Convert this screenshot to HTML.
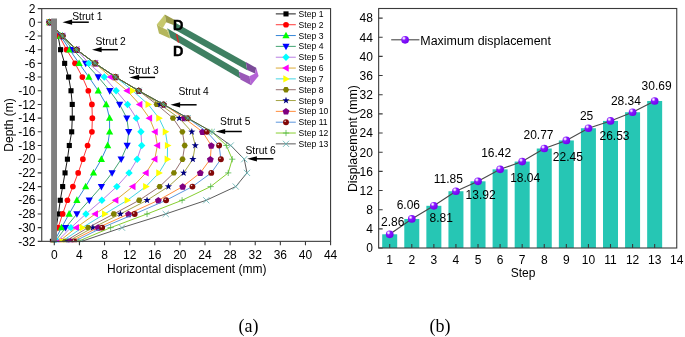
<!DOCTYPE html>
<html><head><meta charset="utf-8"><title>Figure</title>
<style>html,body{margin:0;padding:0;background:#fff;}body{width:685px;height:337px;overflow:hidden;font-family:"Liberation Sans",sans-serif;}svg{display:block;will-change:transform;}</style>
</head><body>
<svg width="685" height="337" viewBox="0 0 685 337" font-family="'Liberation Sans', sans-serif" font-size="12" fill="#000">
<defs>
<radialGradient id="gRed" cx="0.35" cy="0.3" r="0.7"><stop offset="0" stop-color="#ffc8c8"/><stop offset="0.22" stop-color="#901010"/><stop offset="1" stop-color="#780000"/></radialGradient>
<radialGradient id="gPur" cx="0.34" cy="0.3" r="0.75"><stop offset="0" stop-color="#ffffff"/><stop offset="0.13" stop-color="#e6ccff"/><stop offset="0.36" stop-color="#8818ff"/><stop offset="1" stop-color="#7000ee"/></radialGradient>
<clipPath id="clipA"><rect x="41.74" y="8.61" width="288.83" height="233.73"/></clipPath>
</defs>
<rect width="685" height="337" fill="#fff"/>
<g id="chartA">
<g clip-path="url(#clipA)">
<polyline points="49.59,22.30 58.07,35.99 60.58,49.68 64.66,63.37 68.62,77.06 71.00,90.75 72.26,104.44 72.26,118.13 71.69,131.82 69.31,145.51 67.42,159.20 65.04,172.89 62.65,186.58 60.27,200.27 58.38,213.96 56.18,227.65 52.42,241.34" fill="none" stroke="#000000" stroke-width="0.9"/>
<rect x="47.04" y="19.75" width="5.10" height="5.10" fill="#000000"/>
<rect x="55.52" y="33.44" width="5.10" height="5.10" fill="#000000"/>
<rect x="58.03" y="47.13" width="5.10" height="5.10" fill="#000000"/>
<rect x="62.11" y="60.82" width="5.10" height="5.10" fill="#000000"/>
<rect x="66.07" y="74.51" width="5.10" height="5.10" fill="#000000"/>
<rect x="68.45" y="88.20" width="5.10" height="5.10" fill="#000000"/>
<rect x="69.71" y="101.89" width="5.10" height="5.10" fill="#000000"/>
<rect x="69.71" y="115.58" width="5.10" height="5.10" fill="#000000"/>
<rect x="69.14" y="129.27" width="5.10" height="5.10" fill="#000000"/>
<rect x="66.76" y="142.96" width="5.10" height="5.10" fill="#000000"/>
<rect x="64.87" y="156.65" width="5.10" height="5.10" fill="#000000"/>
<rect x="62.49" y="170.34" width="5.10" height="5.10" fill="#000000"/>
<rect x="60.10" y="184.03" width="5.10" height="5.10" fill="#000000"/>
<rect x="57.72" y="197.72" width="5.10" height="5.10" fill="#000000"/>
<rect x="55.83" y="211.41" width="5.10" height="5.10" fill="#000000"/>
<rect x="53.63" y="225.10" width="5.10" height="5.10" fill="#000000"/>
<rect x="49.87" y="238.79" width="5.10" height="5.10" fill="#000000"/>
<polyline points="49.59,22.30 59.32,35.99 66.54,49.68 75.02,63.37 82.37,77.06 88.33,90.75 91.91,104.44 92.35,118.13 91.91,131.82 87.58,145.51 82.87,159.20 78.16,172.89 72.89,186.58 67.42,200.27 62.65,213.96 58.07,227.65 53.36,241.34" fill="none" stroke="#ff2020" stroke-width="0.9"/>
<circle cx="49.59" cy="22.30" r="2.85" fill="#ff0000"/>
<circle cx="59.32" cy="35.99" r="2.85" fill="#ff0000"/>
<circle cx="66.54" cy="49.68" r="2.85" fill="#ff0000"/>
<circle cx="75.02" cy="63.37" r="2.85" fill="#ff0000"/>
<circle cx="82.37" cy="77.06" r="2.85" fill="#ff0000"/>
<circle cx="88.33" cy="90.75" r="2.85" fill="#ff0000"/>
<circle cx="91.91" cy="104.44" r="2.85" fill="#ff0000"/>
<circle cx="92.35" cy="118.13" r="2.85" fill="#ff0000"/>
<circle cx="91.91" cy="131.82" r="2.85" fill="#ff0000"/>
<circle cx="87.58" cy="145.51" r="2.85" fill="#ff0000"/>
<circle cx="82.87" cy="159.20" r="2.85" fill="#ff0000"/>
<circle cx="78.16" cy="172.89" r="2.85" fill="#ff0000"/>
<circle cx="72.89" cy="186.58" r="2.85" fill="#ff0000"/>
<circle cx="67.42" cy="200.27" r="2.85" fill="#ff0000"/>
<circle cx="62.65" cy="213.96" r="2.85" fill="#ff0000"/>
<circle cx="58.07" cy="227.65" r="2.85" fill="#ff0000"/>
<circle cx="53.36" cy="241.34" r="2.85" fill="#ff0000"/>
<polyline points="49.59,22.30 60.58,35.99 69.68,49.68 79.10,63.37 88.83,77.06 98.25,90.75 106.16,104.44 109.56,118.13 109.62,131.82 107.67,145.51 101.39,159.20 93.54,172.89 85.69,186.58 76.90,200.27 69.12,213.96 61.52,227.65 54.30,241.34" fill="none" stroke="#1e78d2" stroke-width="0.9"/>
<polygon points="49.59,18.40 53.19,25.00 45.99,25.00" fill="#00ff00" />
<polygon points="60.58,32.09 64.18,38.69 56.98,38.69" fill="#00ff00" />
<polygon points="69.68,45.78 73.28,52.38 66.08,52.38" fill="#00ff00" />
<polygon points="79.10,59.47 82.70,66.07 75.50,66.07" fill="#00ff00" />
<polygon points="88.83,73.16 92.43,79.76 85.23,79.76" fill="#00ff00" />
<polygon points="98.25,86.85 101.85,93.45 94.65,93.45" fill="#00ff00" />
<polygon points="106.16,100.54 109.76,107.14 102.56,107.14" fill="#00ff00" />
<polygon points="109.56,114.23 113.16,120.83 105.96,120.83" fill="#00ff00" />
<polygon points="109.62,127.92 113.22,134.52 106.02,134.52" fill="#00ff00" />
<polygon points="107.67,141.61 111.27,148.21 104.07,148.21" fill="#00ff00" />
<polygon points="101.39,155.30 104.99,161.90 97.79,161.90" fill="#00ff00" />
<polygon points="93.54,168.99 97.14,175.59 89.94,175.59" fill="#00ff00" />
<polygon points="85.69,182.68 89.29,189.28 82.09,189.28" fill="#00ff00" />
<polygon points="76.90,196.37 80.50,202.97 73.30,202.97" fill="#00ff00" />
<polygon points="69.12,210.06 72.72,216.66 65.52,216.66" fill="#00ff00" />
<polygon points="61.52,223.75 65.12,230.35 57.92,230.35" fill="#00ff00" />
<polygon points="54.30,237.44 57.90,244.04 50.70,244.04" fill="#00ff00" />
<polyline points="49.59,22.30 61.52,35.99 73.14,49.68 85.69,63.37 98.25,77.06 109.74,90.75 119.60,104.44 126.82,118.13 128.71,131.82 127.14,145.51 121.17,159.20 112.07,172.89 101.39,186.58 89.27,200.27 76.90,213.96 65.60,227.65 55.24,241.34" fill="none" stroke="#2e9a62" stroke-width="0.9"/>
<polygon points="49.59,26.20 53.19,19.60 45.99,19.60" fill="#0000ff" />
<polygon points="61.52,39.89 65.12,33.29 57.92,33.29" fill="#0000ff" />
<polygon points="73.14,53.58 76.74,46.98 69.54,46.98" fill="#0000ff" />
<polygon points="85.69,67.27 89.29,60.67 82.09,60.67" fill="#0000ff" />
<polygon points="98.25,80.96 101.85,74.36 94.65,74.36" fill="#0000ff" />
<polygon points="109.74,94.65 113.34,88.05 106.14,88.05" fill="#0000ff" />
<polygon points="119.60,108.34 123.20,101.74 116.00,101.74" fill="#0000ff" />
<polygon points="126.82,122.03 130.42,115.43 123.22,115.43" fill="#0000ff" />
<polygon points="128.71,135.72 132.31,129.12 125.11,129.12" fill="#0000ff" />
<polygon points="127.14,149.41 130.74,142.81 123.54,142.81" fill="#0000ff" />
<polygon points="121.17,163.10 124.77,156.50 117.57,156.50" fill="#0000ff" />
<polygon points="112.07,176.79 115.67,170.19 108.47,170.19" fill="#0000ff" />
<polygon points="101.39,190.48 104.99,183.88 97.79,183.88" fill="#0000ff" />
<polygon points="89.27,204.17 92.87,197.57 85.67,197.57" fill="#0000ff" />
<polygon points="76.90,217.86 80.50,211.26 73.30,211.26" fill="#0000ff" />
<polygon points="65.60,231.55 69.20,224.95 62.00,224.95" fill="#0000ff" />
<polygon points="55.24,245.24 58.84,238.64 51.64,238.64" fill="#0000ff" />
<polyline points="49.59,22.30 62.46,35.99 76.59,49.68 88.83,63.37 104.28,77.06 116.15,90.75 127.58,104.44 136.37,118.13 140.95,131.82 141.70,145.51 137.18,159.20 129.02,172.89 116.84,186.58 101.89,200.27 85.95,213.96 70.94,227.65 57.13,241.34" fill="none" stroke="#b070e0" stroke-width="0.9"/>
<polygon points="49.59,18.60 53.29,22.30 49.59,26.00 45.89,22.30" fill="#00ffff" />
<polygon points="62.46,32.29 66.16,35.99 62.46,39.69 58.76,35.99" fill="#00ffff" />
<polygon points="76.59,45.98 80.29,49.68 76.59,53.38 72.89,49.68" fill="#00ffff" />
<polygon points="88.83,59.67 92.53,63.37 88.83,67.07 85.13,63.37" fill="#00ffff" />
<polygon points="104.28,73.36 107.98,77.06 104.28,80.76 100.58,77.06" fill="#00ffff" />
<polygon points="116.15,87.05 119.85,90.75 116.15,94.45 112.45,90.75" fill="#00ffff" />
<polygon points="127.58,100.74 131.28,104.44 127.58,108.14 123.88,104.44" fill="#00ffff" />
<polygon points="136.37,114.43 140.07,118.13 136.37,121.83 132.67,118.13" fill="#00ffff" />
<polygon points="140.95,128.12 144.65,131.82 140.95,135.52 137.25,131.82" fill="#00ffff" />
<polygon points="141.70,141.81 145.40,145.51 141.70,149.21 138.00,145.51" fill="#00ffff" />
<polygon points="137.18,155.50 140.88,159.20 137.18,162.90 133.48,159.20" fill="#00ffff" />
<polygon points="129.02,169.19 132.72,172.89 129.02,176.59 125.32,172.89" fill="#00ffff" />
<polygon points="116.84,182.88 120.54,186.58 116.84,190.28 113.14,186.58" fill="#00ffff" />
<polygon points="101.89,196.57 105.59,200.27 101.89,203.97 98.19,200.27" fill="#00ffff" />
<polygon points="85.95,210.26 89.65,213.96 85.95,217.66 82.25,213.96" fill="#00ffff" />
<polygon points="70.94,223.95 74.64,227.65 70.94,231.35 67.24,227.65" fill="#00ffff" />
<polygon points="57.13,237.64 60.83,241.34 57.13,245.04 53.43,241.34" fill="#00ffff" />
<polyline points="49.59,22.30 62.46,35.99 76.59,49.68 95.11,63.37 110.69,77.06 127.14,90.75 139.69,104.44 149.43,118.13 155.08,131.82 157.40,145.51 154.76,159.20 145.97,172.89 132.79,186.58 115.65,200.27 95.24,213.96 76.28,227.65 59.32,241.34" fill="none" stroke="#d8a020" stroke-width="0.9"/>
<polygon points="45.69,22.30 52.29,18.70 52.29,25.90" fill="#ff00ff" />
<polygon points="58.56,35.99 65.16,32.39 65.16,39.59" fill="#ff00ff" />
<polygon points="72.69,49.68 79.29,46.08 79.29,53.28" fill="#ff00ff" />
<polygon points="91.21,63.37 97.81,59.77 97.81,66.97" fill="#ff00ff" />
<polygon points="106.79,77.06 113.39,73.46 113.39,80.66" fill="#ff00ff" />
<polygon points="123.24,90.75 129.84,87.15 129.84,94.35" fill="#ff00ff" />
<polygon points="135.79,104.44 142.39,100.84 142.39,108.04" fill="#ff00ff" />
<polygon points="145.53,118.13 152.13,114.53 152.13,121.73" fill="#ff00ff" />
<polygon points="151.18,131.82 157.78,128.22 157.78,135.42" fill="#ff00ff" />
<polygon points="153.50,145.51 160.10,141.91 160.10,149.11" fill="#ff00ff" />
<polygon points="150.86,159.20 157.46,155.60 157.46,162.80" fill="#ff00ff" />
<polygon points="142.07,172.89 148.67,169.29 148.67,176.49" fill="#ff00ff" />
<polygon points="128.89,186.58 135.49,182.98 135.49,190.18" fill="#ff00ff" />
<polygon points="111.75,200.27 118.35,196.67 118.35,203.87" fill="#ff00ff" />
<polygon points="91.34,213.96 97.94,210.36 97.94,217.56" fill="#ff00ff" />
<polygon points="72.38,227.65 78.98,224.05 78.98,231.25" fill="#ff00ff" />
<polygon points="55.42,241.34 62.02,237.74 62.02,244.94" fill="#ff00ff" />
<polyline points="49.59,22.30 62.46,35.99 76.59,49.68 95.11,63.37 115.65,77.06 132.79,90.75 148.23,104.44 158.97,118.13 165.44,131.82 167.57,145.51 167.32,159.20 158.97,172.89 145.85,186.58 127.32,200.27 104.72,213.96 82.24,227.65 62.09,241.34" fill="none" stroke="#30d0e0" stroke-width="0.9"/>
<polygon points="53.49,22.30 46.89,18.70 46.89,25.90" fill="#ffff00" />
<polygon points="66.36,35.99 59.76,32.39 59.76,39.59" fill="#ffff00" />
<polygon points="80.49,49.68 73.89,46.08 73.89,53.28" fill="#ffff00" />
<polygon points="99.01,63.37 92.41,59.77 92.41,66.97" fill="#ffff00" />
<polygon points="119.55,77.06 112.95,73.46 112.95,80.66" fill="#ffff00" />
<polygon points="136.69,90.75 130.09,87.15 130.09,94.35" fill="#ffff00" />
<polygon points="152.13,104.44 145.53,100.84 145.53,108.04" fill="#ffff00" />
<polygon points="162.87,118.13 156.27,114.53 156.27,121.73" fill="#ffff00" />
<polygon points="169.34,131.82 162.74,128.22 162.74,135.42" fill="#ffff00" />
<polygon points="171.47,145.51 164.87,141.91 164.87,149.11" fill="#ffff00" />
<polygon points="171.22,159.20 164.62,155.60 164.62,162.80" fill="#ffff00" />
<polygon points="162.87,172.89 156.27,169.29 156.27,176.49" fill="#ffff00" />
<polygon points="149.75,186.58 143.15,182.98 143.15,190.18" fill="#ffff00" />
<polygon points="131.22,200.27 124.62,196.67 124.62,203.87" fill="#ffff00" />
<polygon points="108.62,213.96 102.02,210.36 102.02,217.56" fill="#ffff00" />
<polygon points="86.14,227.65 79.54,224.05 79.54,231.25" fill="#ffff00" />
<polygon points="65.99,241.34 59.39,237.74 59.39,244.94" fill="#ffff00" />
<polyline points="49.59,22.30 62.46,35.99 76.59,49.68 95.11,63.37 115.65,77.06 138.75,90.75 156.65,104.44 172.97,118.13 182.39,131.82 184.71,145.51 182.52,159.20 173.91,172.89 159.66,186.58 139.19,200.27 113.76,213.96 88.08,227.65 64.97,241.34" fill="none" stroke="#8a6060" stroke-width="0.9"/>
<polygon points="52.69,22.30 51.14,24.98 48.04,24.98 46.49,22.30 48.04,19.62 51.14,19.62" fill="#808000" />
<polygon points="65.56,35.99 64.01,38.67 60.91,38.67 59.36,35.99 60.91,33.31 64.01,33.31" fill="#808000" />
<polygon points="79.69,49.68 78.14,52.36 75.04,52.36 73.49,49.68 75.04,47.00 78.14,47.00" fill="#808000" />
<polygon points="98.21,63.37 96.66,66.05 93.56,66.05 92.01,63.37 93.56,60.69 96.66,60.69" fill="#808000" />
<polygon points="118.75,77.06 117.20,79.74 114.10,79.74 112.55,77.06 114.10,74.38 117.20,74.38" fill="#808000" />
<polygon points="141.85,90.75 140.30,93.43 137.20,93.43 135.65,90.75 137.20,88.07 140.30,88.07" fill="#808000" />
<polygon points="159.75,104.44 158.20,107.12 155.10,107.12 153.55,104.44 155.10,101.76 158.20,101.76" fill="#808000" />
<polygon points="176.07,118.13 174.52,120.81 171.42,120.81 169.87,118.13 171.42,115.45 174.52,115.45" fill="#808000" />
<polygon points="185.49,131.82 183.94,134.50 180.84,134.50 179.29,131.82 180.84,129.14 183.94,129.14" fill="#808000" />
<polygon points="187.81,145.51 186.26,148.19 183.16,148.19 181.61,145.51 183.16,142.83 186.26,142.83" fill="#808000" />
<polygon points="185.62,159.20 184.07,161.88 180.97,161.88 179.42,159.20 180.97,156.52 184.07,156.52" fill="#808000" />
<polygon points="177.01,172.89 175.46,175.57 172.36,175.57 170.81,172.89 172.36,170.21 175.46,170.21" fill="#808000" />
<polygon points="162.76,186.58 161.21,189.26 158.11,189.26 156.56,186.58 158.11,183.90 161.21,183.90" fill="#808000" />
<polygon points="142.29,200.27 140.74,202.95 137.64,202.95 136.09,200.27 137.64,197.59 140.74,197.59" fill="#808000" />
<polygon points="116.86,213.96 115.31,216.64 112.21,216.64 110.66,213.96 112.21,211.28 115.31,211.28" fill="#808000" />
<polygon points="91.18,227.65 89.63,230.33 86.53,230.33 84.98,227.65 86.53,224.97 89.63,224.97" fill="#808000" />
<polygon points="68.07,241.34 66.52,244.02 63.42,244.02 61.87,241.34 63.42,238.66 66.52,238.66" fill="#808000" />
<polyline points="49.59,22.30 62.46,35.99 76.59,49.68 95.11,63.37 115.65,77.06 138.75,90.75 160.10,104.44 179.25,118.13 191.81,131.82 195.26,145.51 192.88,159.20 183.65,172.89 168.45,186.58 147.04,200.27 120.42,213.96 92.92,227.65 67.99,241.34" fill="none" stroke="#9a9a30" stroke-width="0.9"/>
<polygon points="49.59,18.50 50.47,21.09 53.20,21.13 51.02,22.76 51.82,25.37 49.59,23.80 47.36,25.37 48.16,22.76 45.98,21.13 48.71,21.09" fill="#000080" />
<polygon points="62.46,32.19 63.34,34.78 66.08,34.82 63.89,36.45 64.70,39.06 62.46,37.49 60.23,39.06 61.04,36.45 58.85,34.82 61.58,34.78" fill="#000080" />
<polygon points="76.59,45.88 77.47,48.47 80.20,48.51 78.02,50.14 78.82,52.75 76.59,51.18 74.36,52.75 75.16,50.14 72.98,48.51 75.71,48.47" fill="#000080" />
<polygon points="95.11,59.57 96.00,62.16 98.73,62.20 96.54,63.83 97.35,66.44 95.11,64.87 92.88,66.44 93.69,63.83 91.50,62.20 94.23,62.16" fill="#000080" />
<polygon points="115.65,73.26 116.53,75.85 119.26,75.89 117.07,77.52 117.88,80.13 115.65,78.56 113.41,80.13 114.22,77.52 112.03,75.89 114.76,75.85" fill="#000080" />
<polygon points="138.75,86.95 139.63,89.54 142.37,89.58 140.18,91.21 140.99,93.82 138.75,92.25 136.52,93.82 137.33,91.21 135.14,89.58 137.87,89.54" fill="#000080" />
<polygon points="160.10,100.64 160.98,103.23 163.72,103.27 161.53,104.90 162.33,107.51 160.10,105.94 157.87,107.51 158.67,104.90 156.49,103.27 159.22,103.23" fill="#000080" />
<polygon points="179.25,114.33 180.13,116.92 182.87,116.96 180.68,118.59 181.49,121.20 179.25,119.63 177.02,121.20 177.83,118.59 175.64,116.96 178.37,116.92" fill="#000080" />
<polygon points="191.81,128.02 192.69,130.61 195.42,130.65 193.24,132.28 194.04,134.89 191.81,133.32 189.58,134.89 190.38,132.28 188.20,130.65 190.93,130.61" fill="#000080" />
<polygon points="195.26,141.71 196.15,144.30 198.88,144.34 196.69,145.97 197.50,148.58 195.26,147.01 193.03,148.58 193.84,145.97 191.65,144.34 194.38,144.30" fill="#000080" />
<polygon points="192.88,155.40 193.76,157.99 196.49,158.03 194.30,159.66 195.11,162.27 192.88,160.70 190.64,162.27 191.45,159.66 189.26,158.03 192.00,157.99" fill="#000080" />
<polygon points="183.65,169.09 184.53,171.68 187.26,171.72 185.07,173.35 185.88,175.96 183.65,174.39 181.41,175.96 182.22,173.35 180.03,171.72 182.77,171.68" fill="#000080" />
<polygon points="168.45,182.78 169.33,185.37 172.07,185.41 169.88,187.04 170.69,189.65 168.45,188.08 166.22,189.65 167.03,187.04 164.84,185.41 167.57,185.37" fill="#000080" />
<polygon points="147.04,196.47 147.92,199.06 150.65,199.10 148.47,200.73 149.27,203.34 147.04,201.77 144.81,203.34 145.61,200.73 143.43,199.10 146.16,199.06" fill="#000080" />
<polygon points="120.42,210.16 121.30,212.75 124.03,212.79 121.84,214.42 122.65,217.03 120.42,215.46 118.18,217.03 118.99,214.42 116.80,212.79 119.54,212.75" fill="#000080" />
<polygon points="92.92,223.85 93.80,226.44 96.53,226.48 94.34,228.11 95.15,230.72 92.92,229.15 90.68,230.72 91.49,228.11 89.30,226.48 92.03,226.44" fill="#000080" />
<polygon points="67.99,237.54 68.87,240.13 71.60,240.17 69.41,241.80 70.22,244.41 67.99,242.84 65.75,244.41 66.56,241.80 64.37,240.17 67.11,240.13" fill="#000080" />
<polyline points="49.59,22.30 62.46,35.99 76.59,49.68 95.11,63.37 115.65,77.06 138.75,90.75 163.55,104.44 184.28,118.13 202.48,131.82 211.27,145.51 210.33,159.20 200.29,172.89 182.71,186.58 158.34,200.27 128.52,213.96 98.06,227.65 70.63,241.34" fill="none" stroke="#ff7f27" stroke-width="0.9"/>
<polygon points="49.59,19.00 53.01,21.49 51.71,25.51 47.47,25.51 46.17,21.49" fill="#800080" />
<polygon points="62.46,32.69 65.89,35.18 64.58,39.20 60.35,39.20 59.04,35.18" fill="#800080" />
<polygon points="76.59,46.38 80.01,48.87 78.71,52.89 74.47,52.89 73.17,48.87" fill="#800080" />
<polygon points="95.11,60.07 98.54,62.56 97.23,66.58 93.00,66.58 91.69,62.56" fill="#800080" />
<polygon points="115.65,73.76 119.07,76.25 117.76,80.27 113.53,80.27 112.22,76.25" fill="#800080" />
<polygon points="138.75,87.45 142.18,89.94 140.87,93.96 136.64,93.96 135.33,89.94" fill="#800080" />
<polygon points="163.55,101.14 166.98,103.63 165.67,107.65 161.44,107.65 160.13,103.63" fill="#800080" />
<polygon points="184.28,114.83 187.70,117.32 186.39,121.34 182.16,121.34 180.85,117.32" fill="#800080" />
<polygon points="202.48,128.52 205.91,131.01 204.60,135.03 200.37,135.03 199.06,131.01" fill="#800080" />
<polygon points="211.27,142.21 214.70,144.70 213.39,148.72 209.16,148.72 207.85,144.70" fill="#800080" />
<polygon points="210.33,155.90 213.76,158.39 212.45,162.41 208.22,162.41 206.91,158.39" fill="#800080" />
<polygon points="200.29,169.59 203.71,172.08 202.40,176.10 198.17,176.10 196.86,172.08" fill="#800080" />
<polygon points="182.71,183.28 186.13,185.77 184.82,189.79 180.59,189.79 179.28,185.77" fill="#800080" />
<polygon points="158.34,196.97 161.77,199.46 160.46,203.48 156.23,203.48 154.92,199.46" fill="#800080" />
<polygon points="128.52,210.66 131.94,213.15 130.63,217.17 126.40,217.17 125.09,213.15" fill="#800080" />
<polygon points="98.06,224.35 101.49,226.84 100.18,230.86 95.95,230.86 94.64,226.84" fill="#800080" />
<polygon points="70.63,238.04 74.05,240.53 72.74,244.55 68.51,244.55 67.20,240.53" fill="#800080" />
<polyline points="49.59,22.30 62.46,35.99 76.59,49.68 95.11,63.37 115.65,77.06 138.75,90.75 163.55,104.44 187.73,118.13 206.88,131.82 219.12,145.51 220.88,159.20 211.27,172.89 192.44,186.58 166.07,200.27 134.67,213.96 102.15,227.65 74.39,241.34" fill="none" stroke="#4a8ad8" stroke-width="0.9"/>
<circle cx="49.59" cy="22.30" r="2.95" fill="#820808"/><circle cx="48.69" cy="21.30" r="0.75" fill="#fff" fill-opacity="0.9"/>
<circle cx="62.46" cy="35.99" r="2.95" fill="#820808"/><circle cx="61.56" cy="34.99" r="0.75" fill="#fff" fill-opacity="0.9"/>
<circle cx="76.59" cy="49.68" r="2.95" fill="#820808"/><circle cx="75.69" cy="48.68" r="0.75" fill="#fff" fill-opacity="0.9"/>
<circle cx="95.11" cy="63.37" r="2.95" fill="#820808"/><circle cx="94.21" cy="62.37" r="0.75" fill="#fff" fill-opacity="0.9"/>
<circle cx="115.65" cy="77.06" r="2.95" fill="#820808"/><circle cx="114.75" cy="76.06" r="0.75" fill="#fff" fill-opacity="0.9"/>
<circle cx="138.75" cy="90.75" r="2.95" fill="#820808"/><circle cx="137.85" cy="89.75" r="0.75" fill="#fff" fill-opacity="0.9"/>
<circle cx="163.55" cy="104.44" r="2.95" fill="#820808"/><circle cx="162.65" cy="103.44" r="0.75" fill="#fff" fill-opacity="0.9"/>
<circle cx="187.73" cy="118.13" r="2.95" fill="#820808"/><circle cx="186.83" cy="117.13" r="0.75" fill="#fff" fill-opacity="0.9"/>
<circle cx="206.88" cy="131.82" r="2.95" fill="#820808"/><circle cx="205.98" cy="130.82" r="0.75" fill="#fff" fill-opacity="0.9"/>
<circle cx="219.12" cy="145.51" r="2.95" fill="#820808"/><circle cx="218.22" cy="144.51" r="0.75" fill="#fff" fill-opacity="0.9"/>
<circle cx="220.88" cy="159.20" r="2.95" fill="#820808"/><circle cx="219.98" cy="158.20" r="0.75" fill="#fff" fill-opacity="0.9"/>
<circle cx="211.27" cy="172.89" r="2.95" fill="#820808"/><circle cx="210.37" cy="171.89" r="0.75" fill="#fff" fill-opacity="0.9"/>
<circle cx="192.44" cy="186.58" r="2.95" fill="#820808"/><circle cx="191.54" cy="185.58" r="0.75" fill="#fff" fill-opacity="0.9"/>
<circle cx="166.07" cy="200.27" r="2.95" fill="#820808"/><circle cx="165.17" cy="199.27" r="0.75" fill="#fff" fill-opacity="0.9"/>
<circle cx="134.67" cy="213.96" r="2.95" fill="#820808"/><circle cx="133.77" cy="212.96" r="0.75" fill="#fff" fill-opacity="0.9"/>
<circle cx="102.15" cy="227.65" r="2.95" fill="#820808"/><circle cx="101.25" cy="226.65" r="0.75" fill="#fff" fill-opacity="0.9"/>
<circle cx="74.39" cy="241.34" r="2.95" fill="#820808"/><circle cx="73.49" cy="240.34" r="0.75" fill="#fff" fill-opacity="0.9"/>
<polyline points="49.59,22.30 62.46,35.99 76.59,49.68 95.11,63.37 115.65,77.06 138.75,90.75 163.55,104.44 187.73,118.13 211.90,131.82 226.34,145.51 232.25,159.20 228.23,172.89 210.65,186.58 182.08,200.27 147.04,213.96 110.62,227.65 78.16,241.34" fill="none" stroke="#78c818" stroke-width="0.9"/>
<path d="M46.49 22.30H52.69M49.59 19.20V25.40" stroke="#4cb444" stroke-width="0.75" fill="none"/>
<path d="M59.36 35.99H65.56M62.46 32.89V39.09" stroke="#4cb444" stroke-width="0.75" fill="none"/>
<path d="M73.49 49.68H79.69M76.59 46.58V52.78" stroke="#4cb444" stroke-width="0.75" fill="none"/>
<path d="M92.01 63.37H98.21M95.11 60.27V66.47" stroke="#4cb444" stroke-width="0.75" fill="none"/>
<path d="M112.55 77.06H118.75M115.65 73.96V80.16" stroke="#4cb444" stroke-width="0.75" fill="none"/>
<path d="M135.65 90.75H141.85M138.75 87.65V93.85" stroke="#4cb444" stroke-width="0.75" fill="none"/>
<path d="M160.45 104.44H166.65M163.55 101.34V107.54" stroke="#4cb444" stroke-width="0.75" fill="none"/>
<path d="M184.63 118.13H190.83M187.73 115.03V121.23" stroke="#4cb444" stroke-width="0.75" fill="none"/>
<path d="M208.80 131.82H215.00M211.90 128.72V134.92" stroke="#4cb444" stroke-width="0.75" fill="none"/>
<path d="M223.24 145.51H229.44M226.34 142.41V148.61" stroke="#4cb444" stroke-width="0.75" fill="none"/>
<path d="M229.15 159.20H235.35M232.25 156.10V162.30" stroke="#4cb444" stroke-width="0.75" fill="none"/>
<path d="M225.13 172.89H231.33M228.23 169.79V175.99" stroke="#4cb444" stroke-width="0.75" fill="none"/>
<path d="M207.55 186.58H213.75M210.65 183.48V189.68" stroke="#4cb444" stroke-width="0.75" fill="none"/>
<path d="M178.98 200.27H185.18M182.08 197.17V203.37" stroke="#4cb444" stroke-width="0.75" fill="none"/>
<path d="M143.94 213.96H150.14M147.04 210.86V217.06" stroke="#4cb444" stroke-width="0.75" fill="none"/>
<path d="M107.52 227.65H113.72M110.62 224.55V230.75" stroke="#4cb444" stroke-width="0.75" fill="none"/>
<path d="M75.06 241.34H81.26M78.16 238.24V244.44" stroke="#4cb444" stroke-width="0.75" fill="none"/>
<polyline points="49.59,22.30 62.46,35.99 76.59,49.68 95.11,63.37 115.65,77.06 138.75,90.75 163.55,104.44 187.73,118.13 211.90,131.82 230.74,145.51 244.24,159.20 247.00,172.89 235.76,186.58 206.25,200.27 165.75,213.96 121.99,227.65 81.68,241.34" fill="none" stroke="#484848" stroke-width="0.9"/>
<path d="M46.49 19.20L52.69 25.40M46.49 25.40L52.69 19.20" stroke="#5cb0b0" stroke-width="0.8" fill="none"/>
<path d="M59.36 32.89L65.56 39.09M59.36 39.09L65.56 32.89" stroke="#5cb0b0" stroke-width="0.8" fill="none"/>
<path d="M73.49 46.58L79.69 52.78M73.49 52.78L79.69 46.58" stroke="#5cb0b0" stroke-width="0.8" fill="none"/>
<path d="M92.01 60.27L98.21 66.47M92.01 66.47L98.21 60.27" stroke="#5cb0b0" stroke-width="0.8" fill="none"/>
<path d="M112.55 73.96L118.75 80.16M112.55 80.16L118.75 73.96" stroke="#5cb0b0" stroke-width="0.8" fill="none"/>
<path d="M135.65 87.65L141.85 93.85M135.65 93.85L141.85 87.65" stroke="#5cb0b0" stroke-width="0.8" fill="none"/>
<path d="M160.45 101.34L166.65 107.54M160.45 107.54L166.65 101.34" stroke="#5cb0b0" stroke-width="0.8" fill="none"/>
<path d="M184.63 115.03L190.83 121.23M184.63 121.23L190.83 115.03" stroke="#5cb0b0" stroke-width="0.8" fill="none"/>
<path d="M208.80 128.72L215.00 134.92M208.80 134.92L215.00 128.72" stroke="#5cb0b0" stroke-width="0.8" fill="none"/>
<path d="M227.64 142.41L233.84 148.61M227.64 148.61L233.84 142.41" stroke="#5cb0b0" stroke-width="0.8" fill="none"/>
<path d="M241.14 156.10L247.34 162.30M241.14 162.30L247.34 156.10" stroke="#5cb0b0" stroke-width="0.8" fill="none"/>
<path d="M243.90 169.79L250.10 175.99M243.90 175.99L250.10 169.79" stroke="#5cb0b0" stroke-width="0.8" fill="none"/>
<path d="M232.66 183.48L238.86 189.68M232.66 189.68L238.86 183.48" stroke="#5cb0b0" stroke-width="0.8" fill="none"/>
<path d="M203.15 197.17L209.35 203.37M203.15 203.37L209.35 197.17" stroke="#5cb0b0" stroke-width="0.8" fill="none"/>
<path d="M162.65 210.86L168.85 217.06M162.65 217.06L168.85 210.86" stroke="#5cb0b0" stroke-width="0.8" fill="none"/>
<path d="M118.89 224.55L125.09 230.75M118.89 230.75L125.09 224.55" stroke="#5cb0b0" stroke-width="0.8" fill="none"/>
<path d="M78.58 238.24L84.78 244.44M78.58 244.44L84.78 238.24" stroke="#5cb0b0" stroke-width="0.8" fill="none"/>
</g>
<rect x="51.1" y="18.5" width="5.9" height="222.84" fill="#808080"/>
<rect x="41.74" y="8.61" width="288.83" height="232.73" fill="none" stroke="#3a3a3a" stroke-width="1.1"/>
<path d="M41.74 8.61h-4M41.74 22.30h-4M41.74 35.99h-4M41.74 49.68h-4M41.74 63.37h-4M41.74 77.06h-4M41.74 90.75h-4M41.74 104.44h-4M41.74 118.13h-4M41.74 131.82h-4M41.74 145.51h-4M41.74 159.20h-4M41.74 172.89h-4M41.74 186.58h-4M41.74 200.27h-4M41.74 213.96h-4M41.74 227.65h-4M41.74 241.34h-4M54.30 241.34v4M79.42 241.34v4M104.53 241.34v4M129.65 241.34v4M154.76 241.34v4M179.88 241.34v4M205.00 241.34v4M230.11 241.34v4M255.23 241.34v4M280.34 241.34v4M305.46 241.34v4M330.58 241.34v4" stroke="#3a3a3a" stroke-width="1.1" fill="none"/>
<text x="35.54" y="12.81" text-anchor="end">2</text>
<text x="35.54" y="26.50" text-anchor="end">0</text>
<text x="35.54" y="40.19" text-anchor="end">-2</text>
<text x="35.54" y="53.88" text-anchor="end">-4</text>
<text x="35.54" y="67.57" text-anchor="end">-6</text>
<text x="35.54" y="81.26" text-anchor="end">-8</text>
<text x="35.54" y="94.95" text-anchor="end">-10</text>
<text x="35.54" y="108.64" text-anchor="end">-12</text>
<text x="35.54" y="122.33" text-anchor="end">-14</text>
<text x="35.54" y="136.02" text-anchor="end">-16</text>
<text x="35.54" y="149.71" text-anchor="end">-18</text>
<text x="35.54" y="163.40" text-anchor="end">-20</text>
<text x="35.54" y="177.09" text-anchor="end">-22</text>
<text x="35.54" y="190.78" text-anchor="end">-24</text>
<text x="35.54" y="204.47" text-anchor="end">-26</text>
<text x="35.54" y="218.16" text-anchor="end">-28</text>
<text x="35.54" y="231.85" text-anchor="end">-30</text>
<text x="35.54" y="245.54" text-anchor="end">-32</text>
<text x="54.30" y="258.54" text-anchor="middle">0</text>
<text x="79.42" y="258.54" text-anchor="middle">4</text>
<text x="104.53" y="258.54" text-anchor="middle">8</text>
<text x="129.65" y="258.54" text-anchor="middle">12</text>
<text x="154.76" y="258.54" text-anchor="middle">16</text>
<text x="179.88" y="258.54" text-anchor="middle">20</text>
<text x="205.00" y="258.54" text-anchor="middle">24</text>
<text x="230.11" y="258.54" text-anchor="middle">28</text>
<text x="255.23" y="258.54" text-anchor="middle">32</text>
<text x="280.34" y="258.54" text-anchor="middle">36</text>
<text x="305.46" y="258.54" text-anchor="middle">40</text>
<text x="330.58" y="258.54" text-anchor="middle">44</text>
<text x="186.8" y="272.6" text-anchor="middle">Horizontal displacement (mm)</text>
<text transform="translate(13.2,125) rotate(-90)" text-anchor="middle">Depth (m)</text>
<text x="72.20" y="19.80" font-size="10.3">Strut 1</text>
<path d="M68.50 22.20H88.80" stroke="#000" stroke-width="1.5"/>
<polygon points="62.50,22.20 72.10,19.60 72.10,24.80" fill="#000" />
<text x="95.50" y="45.00" font-size="10.3">Strut 2</text>
<path d="M98.00 49.70H118.00" stroke="#000" stroke-width="1.5"/>
<polygon points="92.00,49.70 101.60,47.10 101.60,52.30" fill="#000" />
<text x="128.30" y="74.30" font-size="10.3">Strut 3</text>
<path d="M135.50 77.40H155.10" stroke="#000" stroke-width="1.5"/>
<polygon points="129.50,77.40 139.10,74.80 139.10,80.00" fill="#000" />
<text x="178.50" y="95.00" font-size="10.3">Strut 4</text>
<path d="M176.50 104.80H196.60" stroke="#000" stroke-width="1.5"/>
<polygon points="170.50,104.80 180.10,102.20 180.10,107.40" fill="#000" />
<text x="220.10" y="125.40" font-size="10.3">Strut 5</text>
<path d="M221.60 131.50H241.80" stroke="#000" stroke-width="1.5"/>
<polygon points="215.60,131.50 225.20,128.90 225.20,134.10" fill="#000" />
<text x="245.50" y="154.10" font-size="10.3">Strut 6</text>
<path d="M253.30 158.80H273.40" stroke="#000" stroke-width="1.5"/>
<polygon points="247.30,158.80 256.90,156.20 256.90,161.40" fill="#000" />
<path d="M275.8 13.90H295.8" stroke="#000000" stroke-width="0.9"/>
<rect x="283.45" y="11.35" width="5.10" height="5.10" fill="#000000"/>
<text x="298.6" y="17.00" font-size="8.6">Step 1</text>
<path d="M275.8 24.73H295.8" stroke="#ff2020" stroke-width="0.9"/>
<circle cx="286.00" cy="24.73" r="2.85" fill="#ff0000"/>
<text x="298.6" y="27.83" font-size="8.6">Step 2</text>
<path d="M275.8 35.56H295.8" stroke="#1e78d2" stroke-width="0.9"/>
<polygon points="286.00,31.66 289.60,38.26 282.40,38.26" fill="#00ff00" />
<text x="298.6" y="38.66" font-size="8.6">Step 3</text>
<path d="M275.8 46.39H295.8" stroke="#2e9a62" stroke-width="0.9"/>
<polygon points="286.00,50.29 289.60,43.69 282.40,43.69" fill="#0000ff" />
<text x="298.6" y="49.49" font-size="8.6">Step 4</text>
<path d="M275.8 57.22H295.8" stroke="#b070e0" stroke-width="0.9"/>
<polygon points="286.00,53.52 289.70,57.22 286.00,60.92 282.30,57.22" fill="#00ffff" />
<text x="298.6" y="60.32" font-size="8.6">Step 5</text>
<path d="M275.8 68.05H295.8" stroke="#d8a020" stroke-width="0.9"/>
<polygon points="282.10,68.05 288.70,64.45 288.70,71.65" fill="#ff00ff" />
<text x="298.6" y="71.15" font-size="8.6">Step 6</text>
<path d="M275.8 78.88H295.8" stroke="#30d0e0" stroke-width="0.9"/>
<polygon points="289.90,78.88 283.30,75.28 283.30,82.48" fill="#ffff00" />
<text x="298.6" y="81.98" font-size="8.6">Step 7</text>
<path d="M275.8 89.71H295.8" stroke="#8a6060" stroke-width="0.9"/>
<polygon points="289.10,89.71 287.55,92.39 284.45,92.39 282.90,89.71 284.45,87.03 287.55,87.03" fill="#808000" />
<text x="298.6" y="92.81" font-size="8.6">Step 8</text>
<path d="M275.8 100.54H295.8" stroke="#9a9a30" stroke-width="0.9"/>
<polygon points="286.00,96.74 286.88,99.33 289.61,99.37 287.43,101.00 288.23,103.61 286.00,102.04 283.77,103.61 284.57,101.00 282.39,99.37 285.12,99.33" fill="#000080" />
<text x="298.6" y="103.64" font-size="8.6">Step 9</text>
<path d="M275.8 111.37H295.8" stroke="#ff7f27" stroke-width="0.9"/>
<polygon points="286.00,108.07 289.42,110.56 288.12,114.58 283.88,114.58 282.58,110.56" fill="#800080" />
<text x="298.6" y="114.47" font-size="8.6">Step 10</text>
<path d="M275.8 122.20H295.8" stroke="#4a8ad8" stroke-width="0.9"/>
<circle cx="286.00" cy="122.20" r="2.95" fill="#820808"/><circle cx="285.10" cy="121.20" r="0.75" fill="#fff" fill-opacity="0.9"/>
<text x="298.6" y="125.30" font-size="8.6">Step 11</text>
<path d="M275.8 133.03H295.8" stroke="#78c818" stroke-width="0.9"/>
<path d="M282.90 133.03H289.10M286.00 129.93V136.13" stroke="#4cb444" stroke-width="0.75" fill="none"/>
<text x="298.6" y="136.13" font-size="8.6">Step 12</text>
<path d="M275.8 143.86H295.8" stroke="#484848" stroke-width="0.9"/>
<path d="M282.90 140.76L289.10 146.96M282.90 146.96L289.10 140.76" stroke="#5cb0b0" stroke-width="0.8" fill="none"/>
<text x="298.6" y="146.96" font-size="8.6">Step 13</text>
<polygon points="173.50,21.72 245.80,62.21 247.20,70.19 173.50,28.92" fill="#3f8062" />
<polygon points="167.20,28.31 238.70,70.14 240.20,78.52 169.50,37.16" fill="#3f8062" />
<polygon points="156.75,24.60 164.80,14.50 166.20,22.20 162.90,28.10" fill="#c6c86c" />
<polygon points="164.80,14.50 174.80,19.90 174.80,25.60 166.20,22.20" fill="#9c9c4c" />
<polygon points="156.75,24.60 162.90,28.10 167.20,30.00 170.00,38.60 159.00,33.60" fill="#b4b65c" />
<polygon points="167.20,30.00 168.20,29.60 170.60,38.00 170.00,38.60" fill="#cfd080" />
<polygon points="245.80,62.10 256.20,67.80 255.00,73.40 247.20,70.00" fill="#7a4a98" />
<polygon points="256.20,67.80 258.60,75.90 251.10,85.20 249.40,76.20 255.00,73.40" fill="#b463d6" />
<polygon points="238.70,71.40 249.40,76.20 251.10,85.20 240.40,79.60" fill="#9a58b8" />
<path d="M176.5 34.2L178.5 42.5" stroke="#e02020" stroke-width="1.3"/>
<text transform="translate(172.9,29.5) scale(1,1.03)" font-size="14.5" font-weight="bold" stroke="#000" stroke-width="0.35">D</text>
<text transform="translate(172.9,55.8) scale(1,1.03)" font-size="14.5" font-weight="bold" stroke="#000" stroke-width="0.35">D</text>
</g>
<g id="chartB">
<rect x="382.20" y="234.30" width="15" height="13.70" fill="#26c6b4"/>
<rect x="404.28" y="218.97" width="15" height="29.03" fill="#26c6b4"/>
<rect x="426.36" y="205.80" width="15" height="42.20" fill="#26c6b4"/>
<rect x="448.44" y="191.24" width="15" height="56.76" fill="#26c6b4"/>
<rect x="470.52" y="181.32" width="15" height="66.68" fill="#26c6b4"/>
<rect x="492.60" y="169.35" width="15" height="78.65" fill="#26c6b4"/>
<rect x="514.68" y="161.59" width="15" height="86.41" fill="#26c6b4"/>
<rect x="536.76" y="148.51" width="15" height="99.49" fill="#26c6b4"/>
<rect x="558.84" y="140.46" width="15" height="107.54" fill="#26c6b4"/>
<rect x="580.92" y="128.25" width="15" height="119.75" fill="#26c6b4"/>
<rect x="603.00" y="120.92" width="15" height="127.08" fill="#26c6b4"/>
<rect x="625.08" y="112.25" width="15" height="135.75" fill="#26c6b4"/>
<rect x="647.16" y="100.99" width="15" height="147.01" fill="#26c6b4"/>
<rect x="378.66" y="8.50" width="298.08" height="239.50" fill="none" stroke="#3a3a3a" stroke-width="1.1"/>
<path d="M378.66 248.00h4M378.66 228.84h4M378.66 209.68h4M378.66 190.52h4M378.66 171.36h4M378.66 152.20h4M378.66 133.04h4M378.66 113.88h4M378.66 94.72h4M378.66 75.56h4M378.66 56.40h4M378.66 37.24h4M378.66 18.08h4M389.70 248.00v-4M411.78 248.00v-4M433.86 248.00v-4M455.94 248.00v-4M478.02 248.00v-4M500.10 248.00v-4M522.18 248.00v-4M544.26 248.00v-4M566.34 248.00v-4M588.42 248.00v-4M610.50 248.00v-4M632.58 248.00v-4M654.66 248.00v-4" stroke="#3a3a3a" stroke-width="1.1" fill="none"/>
<text x="372.96" y="252.30" text-anchor="end">0</text>
<text x="372.96" y="233.14" text-anchor="end">4</text>
<text x="372.96" y="213.98" text-anchor="end">8</text>
<text x="372.96" y="194.82" text-anchor="end">12</text>
<text x="372.96" y="175.66" text-anchor="end">16</text>
<text x="372.96" y="156.50" text-anchor="end">20</text>
<text x="372.96" y="137.34" text-anchor="end">24</text>
<text x="372.96" y="118.18" text-anchor="end">28</text>
<text x="372.96" y="99.02" text-anchor="end">32</text>
<text x="372.96" y="79.86" text-anchor="end">36</text>
<text x="372.96" y="60.70" text-anchor="end">40</text>
<text x="372.96" y="41.54" text-anchor="end">44</text>
<text x="372.96" y="22.38" text-anchor="end">48</text>
<text x="389.70" y="263.50" text-anchor="middle">1</text>
<text x="411.78" y="263.50" text-anchor="middle">2</text>
<text x="433.86" y="263.50" text-anchor="middle">3</text>
<text x="455.94" y="263.50" text-anchor="middle">4</text>
<text x="478.02" y="263.50" text-anchor="middle">5</text>
<text x="500.10" y="263.50" text-anchor="middle">6</text>
<text x="522.18" y="263.50" text-anchor="middle">7</text>
<text x="544.26" y="263.50" text-anchor="middle">8</text>
<text x="566.34" y="263.50" text-anchor="middle">9</text>
<text x="588.42" y="263.50" text-anchor="middle">10</text>
<text x="610.50" y="263.50" text-anchor="middle">11</text>
<text x="632.58" y="263.50" text-anchor="middle">12</text>
<text x="654.66" y="263.50" text-anchor="middle">13</text>
<text x="676.74" y="263.50" text-anchor="middle">14</text>
<text x="523" y="277.4" text-anchor="middle">Step</text>
<text transform="translate(357.0,138.6) rotate(-90)" text-anchor="middle" font-size="12.35">Displacement (mm)</text>
<polyline points="389.70,234.30 411.78,218.97 433.86,205.80 455.94,191.24 478.02,181.32 500.10,169.35 522.18,161.59 544.26,148.51 566.34,140.46 588.42,128.25 610.50,120.92 632.58,112.25 654.66,100.99" fill="none" stroke="#484848" stroke-width="1.1"/>
<circle cx="389.70" cy="234.30" r="3.85" fill="url(#gPur)"/>
<circle cx="411.78" cy="218.97" r="3.85" fill="url(#gPur)"/>
<circle cx="433.86" cy="205.80" r="3.85" fill="url(#gPur)"/>
<circle cx="455.94" cy="191.24" r="3.85" fill="url(#gPur)"/>
<circle cx="478.02" cy="181.32" r="3.85" fill="url(#gPur)"/>
<circle cx="500.10" cy="169.35" r="3.85" fill="url(#gPur)"/>
<circle cx="522.18" cy="161.59" r="3.85" fill="url(#gPur)"/>
<circle cx="544.26" cy="148.51" r="3.85" fill="url(#gPur)"/>
<circle cx="566.34" cy="140.46" r="3.85" fill="url(#gPur)"/>
<circle cx="588.42" cy="128.25" r="3.85" fill="url(#gPur)"/>
<circle cx="610.50" cy="120.92" r="3.85" fill="url(#gPur)"/>
<circle cx="632.58" cy="112.25" r="3.85" fill="url(#gPur)"/>
<circle cx="654.66" cy="100.99" r="3.85" fill="url(#gPur)"/>
<text x="381.10" y="225.90">2.86</text>
<text x="396.70" y="208.80">6.06</text>
<text x="429.50" y="221.60">8.81</text>
<text x="433.80" y="182.90">11.85</text>
<text x="465.60" y="198.70">13.92</text>
<text x="481.20" y="157.20">16.42</text>
<text x="510.20" y="181.90">18.04</text>
<text x="523.50" y="139.10">20.77</text>
<text x="552.80" y="160.50">22.45</text>
<text x="579.90" y="119.80">25</text>
<text x="599.50" y="140.00">26.53</text>
<text x="610.90" y="104.70">28.34</text>
<text x="641.60" y="89.50">30.69</text>
<path d="M391.2 39.8H419.4" stroke="#484848" stroke-width="1.1"/>
<circle cx="405.1" cy="39.8" r="3.85" fill="url(#gPur)"/>
<text x="420.3" y="44.5" font-size="12.45">Maximum displacement</text>
</g>
<text x="248.5" y="332.2" text-anchor="middle" font-family="'Liberation Serif', serif" font-size="18">(a)</text>
<text x="440" y="332.2" text-anchor="middle" font-family="'Liberation Serif', serif" font-size="18">(b)</text>
</svg>
</body></html>
